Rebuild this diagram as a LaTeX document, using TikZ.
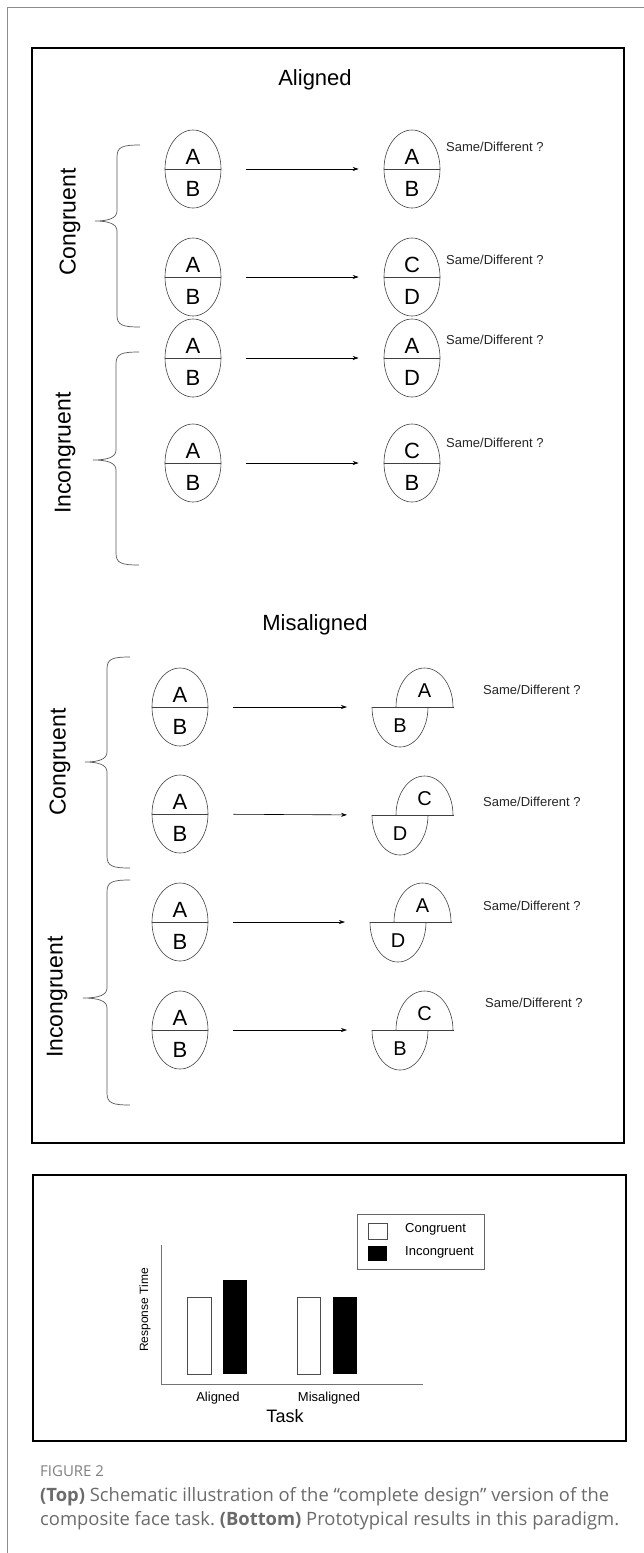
\documentclass[tikz,border=0pt]{standalone}
\usepackage{fontspec}
\setmainfont{Liberation Sans}
\newfontfamily\capfont{Open Sans}
\usetikzlibrary{shapes.geometric,arrows.meta}
\frenchspacing
\definecolor{capgray}{HTML}{6B6B6B}
\definecolor{figgray}{HTML}{808080}
\newcommand\wholeface[5]{%
  \node[face] (#1) at (#2,#3) {};
  \draw[facel] (#1.west) -- (#1.east);
  \node[ltr] (#1t) at ([yshift=5pt]#1.center) {#4};
  \node[ltr] (#1b) at ([yshift=-27pt]#1.center) {#5};
}
\newcommand\splitface[5]{%
  \coordinate (#1) at (#2,#3);
  \coordinate (#1w) at ([xshift=-28pt]#1);
  \draw[facel] (#1w) arc[start angle=180,end angle=360,x radius=28pt,y radius=40pt];
  \draw[facel] ([xshift=-4pt]#1) arc[start angle=180,end angle=0,x radius=28.5pt,y radius=39pt];
  \draw[facel] (#1w) -- ([xshift=54pt]#1);
  \node[ltr2] (#1t) at ([xshift=24.5pt,yshift=10pt]#1) {#4};
  \node[ltr2] (#1b) at ([yshift=-25pt]#1) {#5};
}
\newcommand\mybrace[5]{%
  \draw[brace] (#1+23,#2) .. controls (#1+5,#2) and (#1,#2+2) .. (#1,#2+12)
    -- (#1,#5-10) .. controls (#1,#5-3) and (#1-8,#5) .. (#4,#5)
    .. controls (#1-8,#5) and (#1,#5+3) .. (#1,#5+10)
    -- (#1,#3-12) .. controls (#1,#3-2) and (#1+5,#3) .. (#1+23,#3);
}
\begin{document}
\begin{tikzpicture}[x=1pt,y=-1pt,
  face/.style={draw=black!75, ellipse, minimum width=56pt, minimum height=78pt, inner sep=0pt, line width=0.6pt},
  facel/.style={draw=black!75, line width=0.6pt},
  ltr/.style={font=\fontsize{22}{22}\selectfont, inner sep=0pt, anchor=base},
  ltr2/.style={font=\fontsize{20}{20}\selectfont, inner sep=0pt, anchor=base},
  sd/.style={font=\fontsize{13}{13}\selectfont, anchor=west, inner sep=0pt, text=black!85},
  sdm/.style={font=\fontsize{13}{13}\selectfont, anchor=west, inner sep=0pt, text=black!85},
  arr/.style={-{Stealth[length=6pt,width=4pt]}, line width=0.6pt, shorten <=25pt, shorten >=25pt},
  brace/.style={draw=black!65, line width=0.7pt},
  lab/.style={font=\fontsize{23}{23}\selectfont, rotate=90, inner sep=0pt},
  head/.style={font=\fontsize{22}{22}\selectfont, inner sep=0pt},
  axis/.style={draw=black!55, line width=0.8pt},
  small/.style={font=\fontsize{13}{13}\selectfont, inner sep=0pt},
  captxt/.style={anchor=west, inner sep=0pt, text=capgray, font=\capfont\fontsize{18.4}{19}\selectfont}
]
\useasboundingbox (0,0) rectangle (644,1553);
\fill[white] (0,0) rectangle (644,1553);
% outer frame
\draw[draw=black!45, line width=1.2pt] (7.5,1553) -- (7.5,7.5) -- (644,7.5);
% boxes
\draw[line width=2.6pt] (32,48) rectangle (624,1143);
\draw[line width=2.6pt] (33,1175) rectangle (626,1441);

% ---------- Aligned ----------
\node[head] (hA) at (315,80) {Aligned};
\mybrace{117}{145}{327}{95}{221}
\node[lab] (cA) at (70,222) {Congruent};
\mybrace{116}{352}{565}{93}{460}
\node[lab] (iA) at (65,453) {Incongruent};

\wholeface{L1}{193}{169}{A}{B}
\wholeface{R1}{412}{169}{A}{B}
\draw[arr] (L1) -- (R1);
\node[sd] (s1) at (446,147) {Same/Different ?};

\wholeface{L2}{193}{277}{A}{B}
\wholeface{R2}{412}{277}{C}{D}
\draw[arr] (L2) -- (R2);
\node[sd] (s2) at (446,260) {Same/Different ?};

\wholeface{L3}{193}{358}{A}{B}
\wholeface{R3}{412}{358}{A}{D}
\draw[arr] (L3) -- (R3);
\node[sd] (s3) at (446,340) {Same/Different ?};

\wholeface{L4}{193}{463}{A}{B}
\wholeface{R4}{412}{463}{C}{B}
\draw[arr] (L4) -- (R4);
\node[sd] (s4) at (446,443) {Same/Different ?};

% ---------- Misaligned ----------
\node[head] (hM) at (315,625) {Misaligned};
\mybrace{107}{657}{868}{85}{762}
\node[lab] (cM) at (60,762) {Congruent};
\mybrace{107}{880}{1105}{83}{998}
\node[lab] (iM) at (57,997) {Incongruent};

\wholeface{L5}{180}{707}{A}{B}
\splitface{M5}{400}{707}{A}{B}
\draw[arr] (L5) -- (M5w);
\node[sdm] (s5) at (483,690) {Same/Different ?};

\wholeface{L6}{180}{814}{A}{B}
\splitface{M6}{400}{815}{C}{D}
\draw[arr] (L6) -- (M6w);
\node[sdm] (s6) at (483,802) {Same/Different ?};

\wholeface{L7}{180}{922}{A}{B}
\splitface{M7}{398}{922}{A}{D}
\draw[arr] (L7) -- (M7w);
\node[sdm] (s7) at (483,906) {Same/Different ?};

\wholeface{L8}{180}{1030}{A}{B}
\splitface{M8}{400}{1030}{C}{B}
\draw[arr] (L8) -- (M8w);
\node[sdm] (s8) at (485,1003) {Same/Different ?};

% ---------- Chart ----------
\draw[axis] (161,1245) -- (161,1384) -- (423,1384);
\draw[draw=black!70, line width=0.7pt] (187,1297) rectangle (211,1374);
\fill[black] (223,1280) rectangle (247,1374);
\draw[draw=black!70, line width=0.7pt] (297,1297) rectangle (320,1374);
\fill[black] (333,1297) rectangle (357,1374);
\draw[draw=black!60, line width=0.8pt] (357,1214) rectangle (484,1269);
\draw[draw=black!70, line width=0.7pt] (368,1223) rectangle (387,1239);
\fill[black] (368,1246) rectangle (387,1261);
\node[small, anchor=west] (lg1) at (405,1229) {Congruent};
\node[small, anchor=west] (lg2) at (405,1252) {Incongruent};
\node[font=\fontsize{12}{12}\selectfont, rotate=90, inner sep=0pt] (yl) at (145,1310) {Response Time};
\node[small] (xa) at (218,1398) {Aligned};
\node[small] (xm) at (329,1398) {Misaligned};
\node[font=\fontsize{18}{18}\selectfont, inner sep=0pt] (xt) at (285,1416) {Task};

% ---------- Caption ----------
\node[anchor=west, inner sep=0pt, text=figgray, font=\capfont\fontsize{15}{15}\selectfont] (fig) at (40,1471) {FIGURE 2};
\node[captxt] (c1) at (40,1497) {\textbf{(Top)} Schematic illustration of the “complete design” version of the};
\node[captxt] (c2) at (40,1521) {composite face task. \textbf{(Bottom)} Prototypical results in this paradigm.};
\end{tikzpicture}
\end{document}
